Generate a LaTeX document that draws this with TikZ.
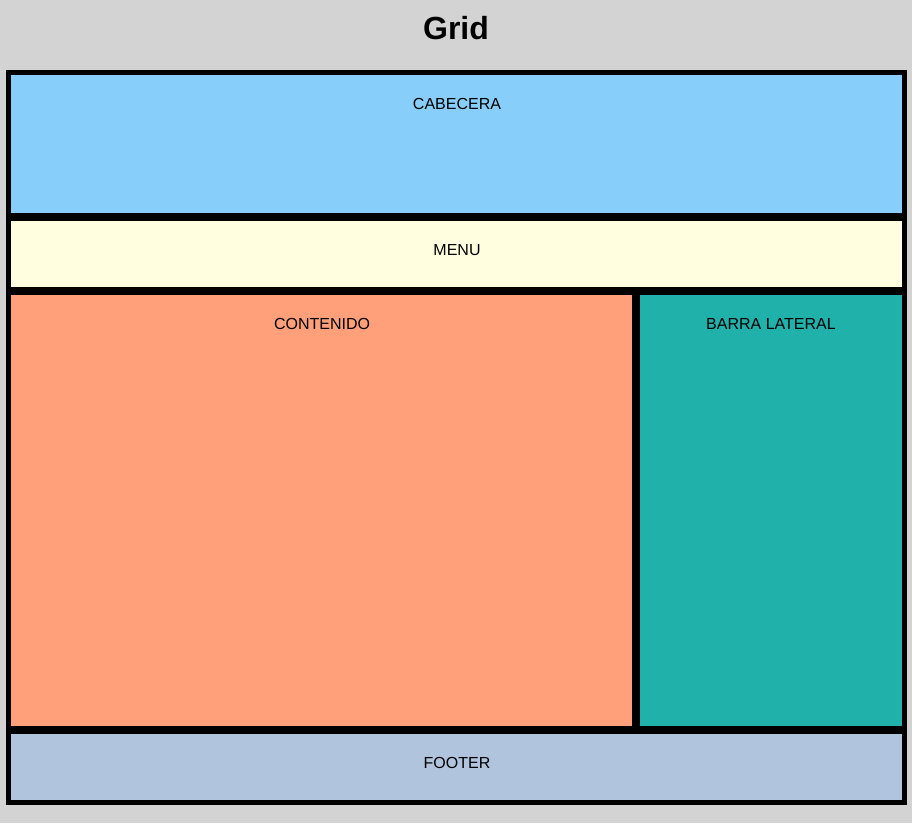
\documentclass[tikz,border=0pt]{standalone}
\usepackage{fontspec}
\setmainfont{Liberation Sans}
\usepackage{xcolor}

\definecolor{fondo}{HTML}{D3D3D3}
\definecolor{cabcol}{HTML}{87CEFA}
\definecolor{menucol}{HTML}{FFFFE0}
\definecolor{contcol}{HTML}{FFA07A}
\definecolor{barcol}{HTML}{20B2AA}
\definecolor{footcol}{HTML}{B0C4DE}

\tikzset{
  etiqueta/.style={anchor=base, inner sep=0pt, font=\fontsize{16}{19}\selectfont},
}

\begin{document}
\begin{tikzpicture}[x=1pt, y=-1pt]
            \useasboundingbox (0,0) rectangle (912,823);
            \fill[fondo] (0,0) rectangle (912,823);
            \fill[black] (6,70) rectangle (907,805);

            \fill[cabcol]  (11,75)  rectangle (902,213);
            \fill[menucol] (11,221) rectangle (902,287);
            \fill[contcol] (11,295) rectangle (632,726);
            \fill[barcol]  (640,295) rectangle (902,726);
            \fill[footcol] (11,734) rectangle (902,800);

            \node[anchor=base, inner sep=0pt, font=\fontsize{32}{38}\selectfont\bfseries] (T) at (456,39) {Grid};
            \node[etiqueta] (A) at (457,109) {CABECERA};
            \node[etiqueta] (B) at (457,255) {MENU};
            \node[etiqueta] (C) at (322,329) {CONTENIDO};
            \node[etiqueta] (D) at (771,329) {BARRA LATERAL};
            \node[etiqueta] (E) at (457,768) {FOOTER};
        \end{tikzpicture}
\end{document}
